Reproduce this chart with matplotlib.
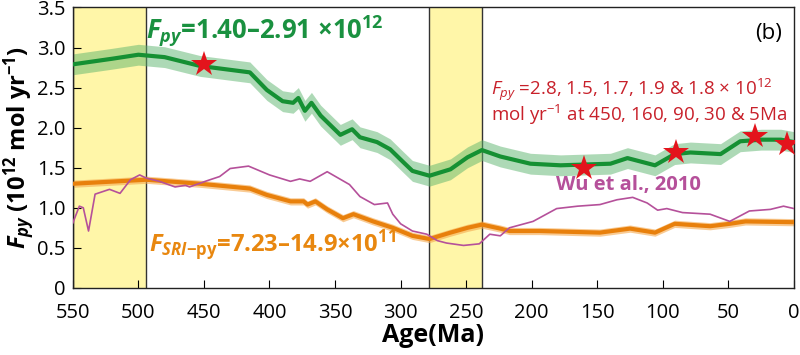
import numpy as np
import matplotlib.pyplot as plt

plt.rcParams['font.family'] = ['Open Sans', 'DejaVu Sans']
plt.rcParams['mathtext.fontset'] = 'custom'
plt.rcParams['mathtext.rm'] = 'Open Sans'
plt.rcParams['mathtext.it'] = 'Open Sans:italic'
plt.rcParams['mathtext.bf'] = 'Open Sans:bold'
plt.rcParams['mathtext.bfit'] = 'Open Sans:italic:bold'

# F_py (green) with uncertainty band
age_py = [550, 520, 500, 480, 453, 415, 402, 390, 382, 378, 373, 368, 361, 346, 337, 331,
          318, 308, 298, 291, 278, 262, 249, 238, 224, 201, 178, 140, 127, 106, 91, 79, 56,
          41, 25, 10, 0]
f_py = [2.79, 2.86, 2.91, 2.88, 2.77, 2.69, 2.47, 2.33, 2.31, 2.37, 2.21, 2.31, 2.15, 1.91,
        1.98, 1.88, 1.82, 1.73, 1.57, 1.46, 1.40, 1.48, 1.63, 1.72, 1.64, 1.55, 1.53, 1.55,
        1.62, 1.53, 1.67, 1.69, 1.67, 1.83, 1.85, 1.85, 1.82]
err_py = 0.13

# F_SRI-py (orange) with uncertainty band
age_sri = [550, 494, 453, 415, 402, 384, 374, 371, 365, 356, 344, 336, 321, 306, 291, 278,
           262, 249, 238, 224, 217, 194, 148, 125, 106, 91, 64, 49, 37, 0]
f_sri = [1.30, 1.35, 1.30, 1.24, 1.16, 1.08, 1.08, 1.04, 1.08, 0.98, 0.87, 0.92, 0.83, 0.75,
         0.65, 0.61, 0.69, 0.75, 0.79, 0.74, 0.71, 0.71, 0.69, 0.74, 0.69, 0.80, 0.77, 0.80,
         0.83, 0.82]
err_sri = 0.045

# Wu et al., 2010 (purple)
age_wu = [550, 545, 542, 538, 533, 522, 514, 506, 499, 494, 484, 472, 464, 461, 449, 438,
          430, 416, 400, 384, 377, 369, 356, 339, 331, 320, 310, 306, 300, 291, 280, 272,
          265, 252, 240, 232, 224, 217, 199, 181, 165, 148, 135, 123, 112, 104, 97, 85, 64,
          49, 34, 18, 8, 0]
f_wu = [0.81, 1.02, 1.00, 0.71, 1.17, 1.23, 1.18, 1.35, 1.41, 1.37, 1.33, 1.26, 1.28, 1.26,
        1.33, 1.39, 1.49, 1.52, 1.41, 1.33, 1.36, 1.33, 1.45, 1.29, 1.14, 1.04, 1.06, 0.92,
        0.80, 0.71, 0.67, 0.59, 0.56, 0.53, 0.55, 0.67, 0.65, 0.75, 0.83, 0.99, 1.02, 1.04,
        1.10, 1.13, 1.06, 0.97, 0.99, 0.94, 0.92, 0.83, 0.96, 0.98, 1.02, 0.99]

# stars
star_age = [450, 160, 90, 30, 5]
star_val = [2.8, 1.5, 1.7, 1.9, 1.8]

# yellow intervals
spans = [(494, 550), (238, 278)]

fig = plt.figure(figsize=(8, 3.55), dpi=100)
ax = fig.add_axes([0.091, 0.189, 0.9015, 0.79])

for a0, a1 in spans:
    ax.axvspan(a0, a1, facecolor='#FFF6A8', edgecolor='none', zorder=0)
    ax.axvline(a0, color='#333333', lw=1, zorder=1)
    ax.axvline(a1, color='#333333', lw=1, zorder=1)

age_py_a = np.array(age_py)
f_py_a = np.array(f_py)
ax.fill_between(age_py_a, f_py_a - err_py, f_py_a + err_py, color='#5DB56E', alpha=0.5,
                lw=0, zorder=2)
ax.plot(age_py_a, f_py_a, color='#159033', lw=3, zorder=3)

age_sri_a = np.array(age_sri)
f_sri_a = np.array(f_sri)
ax.fill_between(age_sri_a, f_sri_a - err_sri, f_sri_a + err_sri, color='#F5A94D', alpha=0.6,
                lw=0, zorder=2)
ax.plot(age_sri_a, f_sri_a, color='#E8800C', lw=3, zorder=3)

ax.plot(age_wu, f_wu, color='#B5509A', lw=1.2, zorder=3)

ax.plot(star_age, star_val, linestyle='none', marker='*', markersize=19,
        color='#E3141C', markeredgewidth=0, zorder=5)

ax.set_xlim(550, 0)
ax.set_ylim(0, 3.5)
ax.set_xticks(np.arange(550, -1, -50))
ax.set_yticks(np.arange(0, 3.51, 0.5))
ax.set_yticklabels(['0', '0.5', '1.0', '1.5', '2.0', '2.5', '3.0', '3.5'])
ax.tick_params(direction='in', length=6, labelsize=14.5)
ax.tick_params(axis='x', pad=11)
ax.tick_params(axis='y', pad=5)
for s in ax.spines.values():
    s.set_linewidth(1)
    s.set_color('#222222')

ax.set_xlabel('Age(Ma)', fontsize=18, fontweight='bold', labelpad=0)
ax.set_ylabel(r'$\mathbfit{F}_{\mathbfit{py}}$ (10$^{\mathbf{12}}$ mol yr$^{\mathbf{-1}}$)',
              fontsize=17, fontweight='bold', labelpad=1)

ax.text(494, 3.2, r'$\mathbfit{F}_{\mathbfit{py}}$=1.40–2.91 ×10$^{\mathbf{12}}$',
        color='#1A9140', fontsize=18.5, fontweight='bold', va='center', ha='left')
ax.text(492, 0.54, r'$\mathbfit{F}_{\mathbfit{SRI}\mathbf{{-}py}}$=7.23–14.9×10$^{\mathbf{11}}$',
        color='#E8870F', fontsize=17.2, fontweight='bold', va='center', ha='left')
ax.text(9, 3.17, '(b)', fontsize=16, ha='right', va='center')
ax.text(231, 2.47, r'$F_{py}$ =2.8, 1.5, 1.7, 1.9 & 1.8 × 10$^{12}$',
        color='#C8202A', fontsize=13.5, ha='left', va='center')
ax.text(231, 2.16, r'mol yr$^{-1}$ at 450, 160, 90, 30 & 5Ma',
        color='#C8202A', fontsize=13.5, ha='left', va='center')
ax.text(126, 1.28, 'Wu et al., 2010', color='#B5509A', fontsize=14.5, fontweight='bold',
        ha='center', va='center')

fig.savefig('out.png', dpi=100)
